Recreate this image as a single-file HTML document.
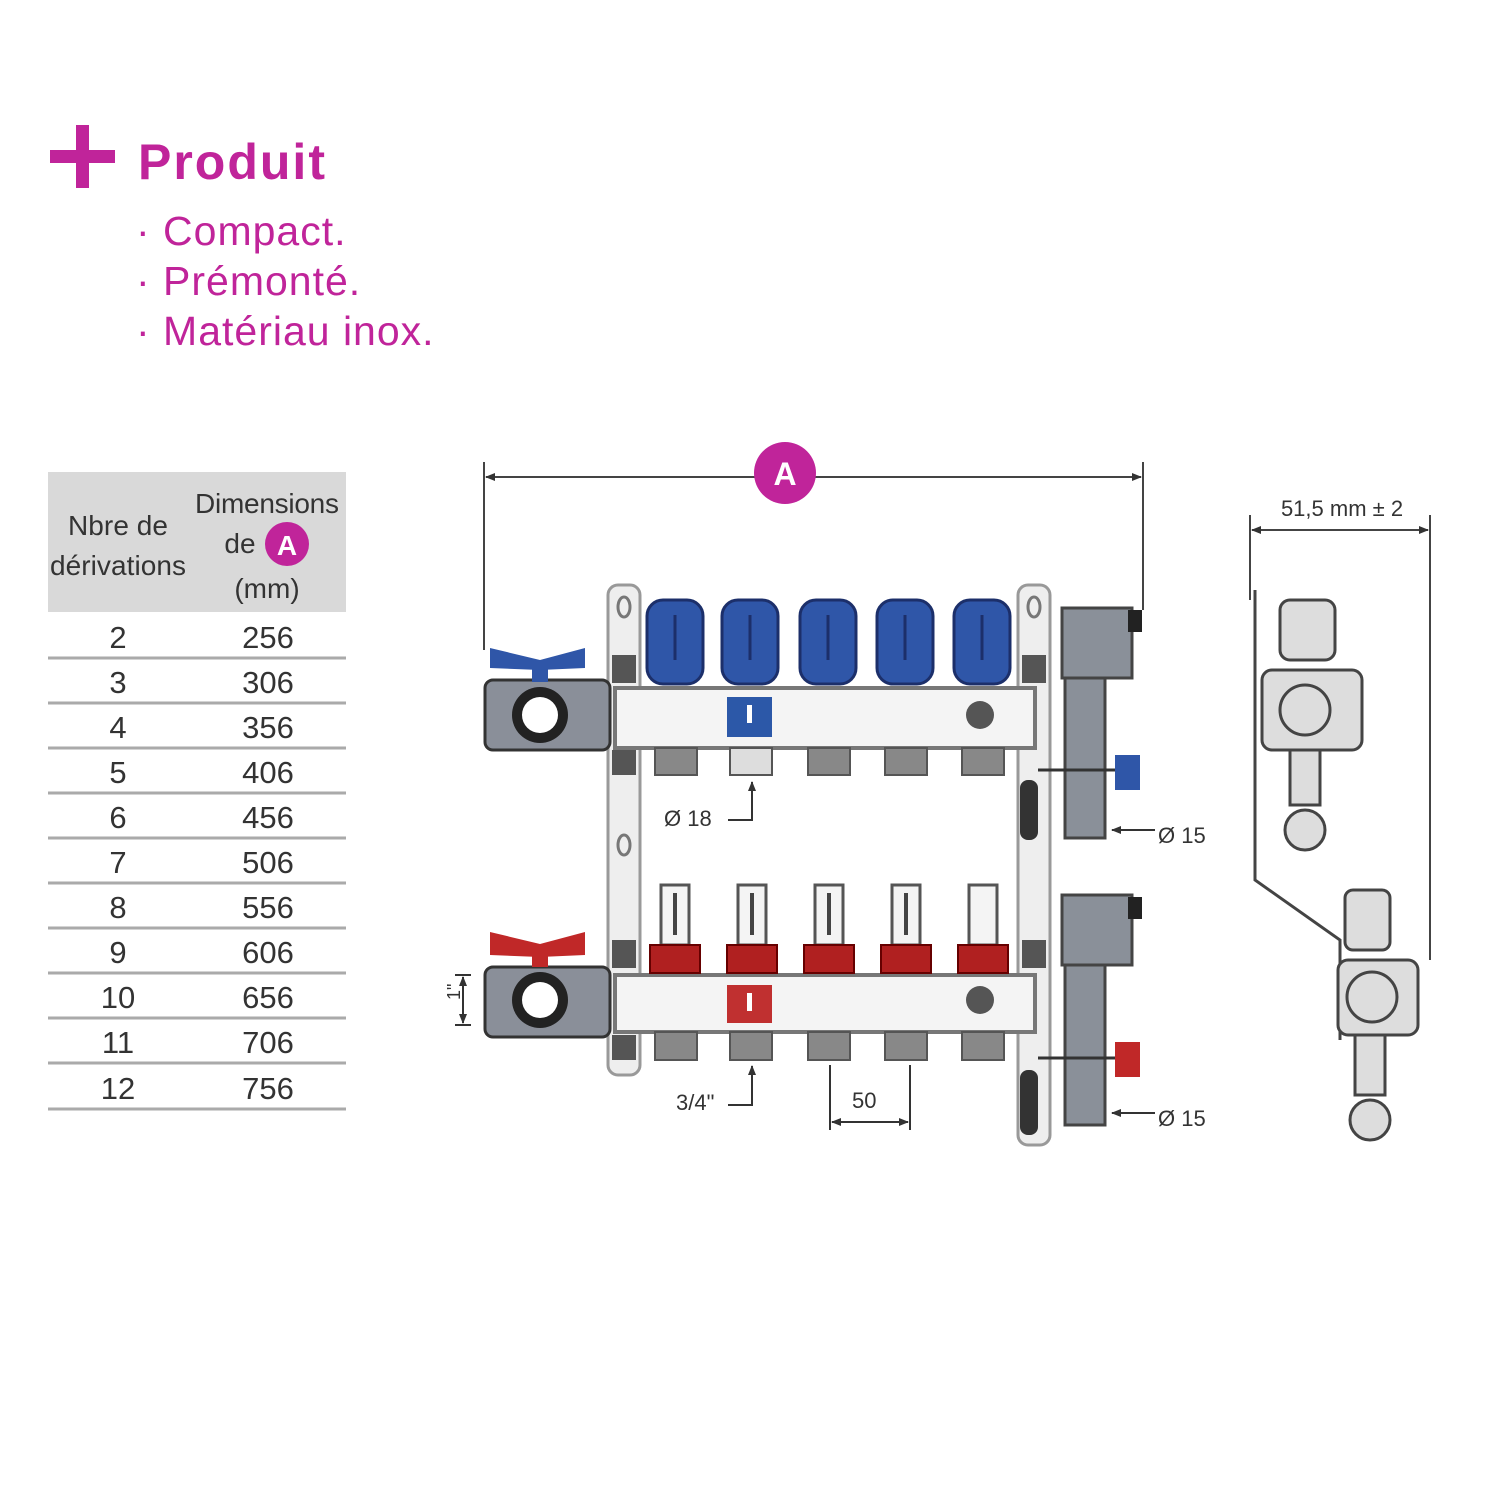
<!DOCTYPE html>
<html><head><meta charset="utf-8"><style>
body{margin:0;background:#fff;width:1500px;height:1500px;overflow:hidden;position:relative;font-family:"Liberation Sans",sans-serif}
.m{color:#c0249a;position:absolute}
</style></head><body>
<div style="position:absolute;left:50px;top:150px;width:65px;height:13px;background:#c0249a"></div>
<div style="position:absolute;left:76px;top:125px;width:13px;height:63px;background:#c0249a"></div>
<div class="m" style="left:138px;top:133px;font-size:50px;font-weight:bold;letter-spacing:2px">Produit</div>
<div class="m" style="left:136px;top:206px;font-size:41px;line-height:50px;letter-spacing:1px">· Compact.<br>· Prémonté.<br>· Matériau inox.</div>

<svg width="1500" height="1500" style="position:absolute;left:0;top:0" font-family="Liberation Sans, sans-serif">
<defs><marker id="ar" markerWidth="10" markerHeight="10" refX="9" refY="5" orient="auto" markerUnits="userSpaceOnUse"><path d="M0,1 L10,5 L0,9Z" fill="#333"/></marker></defs>
<rect x="48" y="472" width="298" height="140" fill="#d9d9d9"/>
<g font-size="28" fill="#333" text-anchor="middle">
<text x="118" y="535" textLength="100">Nbre de</text><text x="118" y="575" textLength="136">dérivations</text>
<text x="267" y="513" textLength="144">Dimensions</text><text x="240" y="553">de</text><text x="267" y="598">(mm)</text>
</g>
<circle cx="287" cy="544" r="22" fill="#c0249a"/><text x="287" y="555" font-size="28" font-weight="bold" fill="#fff" text-anchor="middle">A</text>
<g font-size="31" fill="#333" text-anchor="middle">
<text x="118" y="648">2</text><text x="268" y="648">256</text>
<text x="118" y="693">3</text><text x="268" y="693">306</text>
<text x="118" y="738">4</text><text x="268" y="738">356</text>
<text x="118" y="783">5</text><text x="268" y="783">406</text>
<text x="118" y="828">6</text><text x="268" y="828">456</text>
<text x="118" y="873">7</text><text x="268" y="873">506</text>
<text x="118" y="918">8</text><text x="268" y="918">556</text>
<text x="118" y="963">9</text><text x="268" y="963">606</text>
<text x="118" y="1008">10</text><text x="268" y="1008">656</text>
<text x="118" y="1053">11</text><text x="268" y="1053">706</text>
<text x="118" y="1099">12</text><text x="268" y="1099">756</text>
</g>
<g stroke="#aaa" stroke-width="3">
<line x1="48" y1="658" x2="346" y2="658"/><line x1="48" y1="703" x2="346" y2="703"/><line x1="48" y1="748" x2="346" y2="748"/><line x1="48" y1="793" x2="346" y2="793"/><line x1="48" y1="838" x2="346" y2="838"/><line x1="48" y1="883" x2="346" y2="883"/><line x1="48" y1="928" x2="346" y2="928"/><line x1="48" y1="973" x2="346" y2="973"/><line x1="48" y1="1018" x2="346" y2="1018"/><line x1="48" y1="1063" x2="346" y2="1063"/><line x1="48" y1="1109" x2="346" y2="1109"/>
</g>

<g stroke="#444" stroke-width="2" fill="none">
<line x1="484" y1="462" x2="484" y2="650"/><line x1="1143" y1="462" x2="1143" y2="610"/>
<line x1="760" y1="477" x2="486" y2="477" marker-end="url(#ar)"/><line x1="810" y1="477" x2="1141" y2="477" marker-end="url(#ar)"/>
<line x1="1250" y1="515" x2="1250" y2="600"/><line x1="1430" y1="515" x2="1430" y2="960"/>
<line x1="1340" y1="530" x2="1252" y2="530" marker-end="url(#ar)"/><line x1="1340" y1="530" x2="1428" y2="530" marker-end="url(#ar)"/>
</g>
<circle cx="785" cy="473" r="31" fill="#c0249a"/><text x="785" y="485" font-size="32" font-weight="bold" fill="#fff" text-anchor="middle">A</text>
<text x="1342" y="516" font-size="22" fill="#333" text-anchor="middle">51,5 mm ± 2</text>

<rect x="608" y="585" width="32" height="490" rx="10" fill="#eee" stroke="#999" stroke-width="3"/>
<rect x="1018" y="585" width="32" height="560" rx="10" fill="#eee" stroke="#999" stroke-width="3"/>
<g fill="none" stroke="#777" stroke-width="3"><ellipse cx="624" cy="607" rx="6" ry="10"/><ellipse cx="624" cy="845" rx="6" ry="10"/><ellipse cx="1034" cy="607" rx="6" ry="10"/></g>
<g fill="#555"><rect x="612" y="655" width="24" height="28"/><rect x="612" y="750" width="24" height="25"/><rect x="612" y="940" width="24" height="28"/><rect x="612" y="1035" width="24" height="25"/><rect x="1022" y="655" width="24" height="28"/><rect x="1022" y="940" width="24" height="28"/></g>
<rect x="615" y="688" width="420" height="60" fill="#f4f4f4" stroke="#777" stroke-width="4"/>
<rect x="615" y="975" width="420" height="57" fill="#f4f4f4" stroke="#777" stroke-width="4"/>
<rect x="727" y="697" width="45" height="40" fill="#2c58a8"/>
<rect x="727" y="985" width="45" height="38" fill="#c03030"/>
<rect x="747" y="705" width="5" height="18" fill="#fff"/><rect x="747" y="993" width="5" height="18" fill="#fff"/>
<circle cx="980" cy="715" r="14" fill="#555"/><circle cx="980" cy="1000" r="14" fill="#555"/>
<g fill="#2f56a8" stroke="#1c2f6a" stroke-width="3">
<rect x="647" y="600" width="56" height="84" rx="16"/><rect x="722" y="600" width="56" height="84" rx="16"/><rect x="800" y="600" width="56" height="84" rx="16"/><rect x="877" y="600" width="56" height="84" rx="16"/><rect x="954" y="600" width="56" height="84" rx="16"/>
</g>
<g stroke="#1c2f6a" stroke-width="3"><line x1="675" y1="615" x2="675" y2="660"/><line x1="750" y1="615" x2="750" y2="660"/><line x1="828" y1="615" x2="828" y2="660"/><line x1="905" y1="615" x2="905" y2="660"/><line x1="982" y1="615" x2="982" y2="660"/></g>
<g fill="#888" stroke="#555" stroke-width="2">
<rect x="655" y="748" width="42" height="27"/><rect x="730" y="748" width="42" height="27" fill="#ddd"/><rect x="808" y="748" width="42" height="27"/><rect x="885" y="748" width="42" height="27"/><rect x="962" y="748" width="42" height="27"/>
<rect x="655" y="1032" width="42" height="28"/><rect x="730" y="1032" width="42" height="28"/><rect x="808" y="1032" width="42" height="28"/><rect x="885" y="1032" width="42" height="28"/><rect x="962" y="1032" width="42" height="28"/>
</g>
<g stroke="#555" stroke-width="3" fill="#f4f4f4">
<rect x="661" y="885" width="28" height="60"/><rect x="738" y="885" width="28" height="60"/><rect x="815" y="885" width="28" height="60"/><rect x="892" y="885" width="28" height="60"/><rect x="969" y="885" width="28" height="60"/>
</g>
<g stroke="#444" stroke-width="4"><line x1="675" y1="893" x2="675" y2="935"/><line x1="752" y1="893" x2="752" y2="935"/><line x1="829" y1="893" x2="829" y2="935"/><line x1="906" y1="893" x2="906" y2="935"/></g>
<g fill="#b02020" stroke="#600" stroke-width="2">
<rect x="650" y="945" width="50" height="28"/><rect x="727" y="945" width="50" height="28"/><rect x="804" y="945" width="50" height="28"/><rect x="881" y="945" width="50" height="28"/><rect x="958" y="945" width="50" height="28"/>
</g>
<rect x="485" y="680" width="125" height="70" rx="8" fill="#8a8f99" stroke="#333" stroke-width="3"/>
<circle cx="540" cy="715" r="28" fill="#222"/><circle cx="540" cy="715" r="18" fill="#fff"/>
<rect x="532" y="660" width="16" height="22" fill="#2f56a8"/>
<path d="M490 648 L540 660 L585 648 L585 668 L540 670 L490 668Z" fill="#2f56a8"/>
<rect x="485" y="967" width="125" height="70" rx="8" fill="#8a8f99" stroke="#333" stroke-width="3"/>
<circle cx="540" cy="1000" r="28" fill="#222"/><circle cx="540" cy="1000" r="18" fill="#fff"/>
<rect x="532" y="945" width="16" height="22" fill="#c02828"/>
<path d="M490 932 L540 944 L585 932 L585 955 L540 957 L490 955Z" fill="#c02828"/>
<g fill="#8a9099" stroke="#444" stroke-width="3">
<rect x="1062" y="608" width="70" height="70"/><rect x="1065" y="678" width="40" height="160"/>
<rect x="1062" y="895" width="70" height="70"/><rect x="1065" y="965" width="40" height="160"/>
</g>
<rect x="1128" y="610" width="14" height="22" fill="#222"/><rect x="1128" y="897" width="14" height="22" fill="#222"/>
<line x1="1038" y1="770" x2="1115" y2="770" stroke="#333" stroke-width="3"/><line x1="1038" y1="1058" x2="1115" y2="1058" stroke="#333" stroke-width="3"/>
<rect x="1115" y="755" width="25" height="35" fill="#2f56a8"/><rect x="1115" y="1042" width="25" height="35" fill="#c02828"/>
<rect x="1020" y="780" width="18" height="60" rx="8" fill="#333"/><rect x="1020" y="1070" width="18" height="65" rx="8" fill="#333"/>
<g stroke="#333" stroke-width="2" fill="none">
<polyline points="728,820 752,820 752,782" marker-end="url(#ar)"/><polyline points="728,1105 752,1105 752,1066" marker-end="url(#ar)"/>
<line x1="1155" y1="830" x2="1112" y2="830" marker-end="url(#ar)"/><line x1="1155" y1="1113" x2="1112" y2="1113" marker-end="url(#ar)"/>
<line x1="830" y1="1065" x2="830" y2="1130"/><line x1="910" y1="1065" x2="910" y2="1130"/><line x1="870" y1="1122" x2="832" y2="1122" marker-end="url(#ar)"/><line x1="870" y1="1122" x2="908" y2="1122" marker-end="url(#ar)"/>
<line x1="463" y1="1000" x2="463" y2="977" marker-end="url(#ar)"/><line x1="463" y1="1000" x2="463" y2="1023" marker-end="url(#ar)"/><line x1="455" y1="975" x2="471" y2="975"/><line x1="455" y1="1025" x2="471" y2="1025"/>
</g>
<g font-size="22" fill="#333">
<text x="664" y="826">Ø 18</text><text x="1158" y="843">Ø 15</text><text x="1158" y="1126">Ø 15</text>
<text x="676" y="1110">3/4"</text><text x="852" y="1108">50</text>
<text x="448" y="1012" transform="rotate(-90 448 1000)" font-size="18">1"</text>
</g>
<g stroke="#444" stroke-width="3" fill="#ddd">
<polyline points="1255,590 1255,880 1340,940 1340,1040" fill="none"/>
<rect x="1280" y="600" width="55" height="60" rx="10"/>
<rect x="1262" y="670" width="100" height="80" rx="10"/>
<circle cx="1305" cy="710" r="25"/>
<rect x="1290" y="750" width="30" height="55"/>
<circle cx="1305" cy="830" r="20"/>
<rect x="1345" y="890" width="45" height="60" rx="8"/>
<rect x="1338" y="960" width="80" height="75" rx="10"/>
<circle cx="1372" cy="997" r="25"/>
<rect x="1355" y="1035" width="30" height="60"/>
<circle cx="1370" cy="1120" r="20"/>
</g>
</svg>
</body></html>
